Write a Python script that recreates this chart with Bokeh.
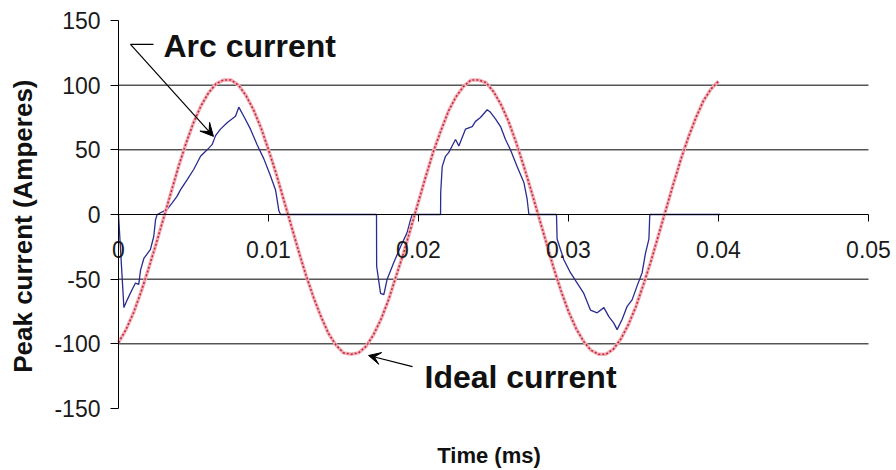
import math
from bokeh.plotting import figure
from bokeh.models import Range1d, FixedTicker, Label, Arrow, VeeHead
from bokeh.embed import file_html
from bokeh.resources import INLINE

# ---- data ----
ideal_t = [0.0000, 0.0005, 0.0010, 0.0015, 0.0020, 0.0025, 0.0030, 0.0035, 0.0040, 0.0045,
           0.0050, 0.0055, 0.0060, 0.0065, 0.0070, 0.0075, 0.0080, 0.0085, 0.0090, 0.0095,
           0.0100, 0.0105, 0.0110, 0.0115, 0.0120, 0.0125, 0.0130, 0.0135, 0.0140, 0.0145,
           0.0150, 0.0155, 0.0160, 0.0165, 0.0170, 0.0175, 0.0180, 0.0185, 0.0190, 0.0195,
           0.0200, 0.0205, 0.0210, 0.0215, 0.0220, 0.0225, 0.0230, 0.0235, 0.0240, 0.0245,
           0.0250, 0.0255, 0.0260, 0.0265, 0.0270, 0.0275, 0.0280, 0.0285, 0.0290, 0.0295,
           0.0300, 0.0305, 0.0310, 0.0315, 0.0320, 0.0325, 0.0330, 0.0335, 0.0340, 0.0345,
           0.0350, 0.0355, 0.0360, 0.0365, 0.0370, 0.0375, 0.0380, 0.0385, 0.0390, 0.0395,
           0.0400]
ideal_i = [-99, -89, -76, -60, -42, -23, -3, 17, 37, 55,
           71, 84, 94, 101, 104, 104, 100, 92, 81, 67,
           50, 32, 12, -8, -28, -47, -64, -79, -92, -101,
           -107, -108, -107, -102, -93, -81, -66, -48, -30, -10,
           10, 30, 49, 65, 80, 91, 99, 104, 104, 102,
           95, 85, 72, 56, 38, 19, -1, -21, -41, -59,
           -75, -88, -98, -105, -108, -108, -104, -96, -85, -71,
           -54, -36, -16, 4, 24, 43, 60, 75, 88, 97,
           103]

arc_t = [0.0, 0.00036, 0.00058, 0.00091, 0.00113, 0.00135, 0.00147, 0.00169, 0.00213, 0.00235,
         0.00247, 0.00258, 0.00324, 0.00358, 0.0039, 0.00413, 0.00458, 0.00502, 0.00547, 0.00591,
         0.00624, 0.00647, 0.0068, 0.00724, 0.00758, 0.0078, 0.00802, 0.00835, 0.0088, 0.00924,
         0.00969, 0.01013, 0.01047, 0.01069, 0.0108,
         0.0172, 0.01721, 0.01747, 0.01769, 0.01791, 0.01836, 0.0188, 0.01924, 0.01947, 0.01958,
         0.02147, 0.02148, 0.02158, 0.0218, 0.02202, 0.02224, 0.02247, 0.02269, 0.02313, 0.02358,
         0.0238, 0.02413, 0.02458, 0.0248, 0.02513, 0.02547, 0.0258, 0.02613, 0.02658, 0.02702,
         0.02724, 0.02736,
         0.0292, 0.02924, 0.02969, 0.03013, 0.03058, 0.03102, 0.03147, 0.03191, 0.03236, 0.03269,
         0.03302, 0.03324, 0.03358, 0.03391, 0.03424, 0.03458, 0.03491, 0.03513, 0.03536, 0.03542,
         0.0401]
arc_i = [0, -72, -66, -58, -53, -54, -43, -34, -27, -17,
         -4, 0, 4, 9, 14, 19, 27, 35, 45, 50,
         54, 61, 66, 71, 74, 76, 83, 76, 66, 54,
         43, 30, 19, 3, 0,
         0, -40, -61, -62, -50, -37, -25, -14, -4, 0,
         0, 17, 37, 45, 48, 53, 58, 53, 66, 68,
         72, 75, 81, 79, 74, 68, 58, 50, 37, 25,
         12, 0,
         0, -19, -35, -45, -53, -61, -74, -76, -72, -79,
         -84, -89, -81, -71, -66, -55, -45, -30, -19, 0,
         0]

x_tick_vals = [0.0, 0.01, 0.02, 0.03, 0.04, 0.05]
x_tick_labels = ["0", "0.01", "0.02", "0.03", "0.04", "0.05"]
y_tick_vals = [-150, -100, -50, 0, 50, 100, 150]
y_tick_labels = ["-150", "-100", "-50", "0", "50", "100", "150"]
grid_vals = [-100, -50, 50, 100]

FONT = "Liberation Sans"

# plot geometry (pixels inside the figure): t=0 at 118, t=0.05 at 868; y=150 at 20, y=-150 at 408
W, H = 894, 468
X0_PX, X1_PX = 118.0, 868.0
YT_PX, YB_PX = 20.0, 408.0
xs = (X1_PX - X0_PX) / 0.05
ys = (YB_PX - YT_PX) / 300.0
x_range = Range1d(-X0_PX / xs, (W - X0_PX) / xs)
y_range = Range1d(-150 - (H - YB_PX) / ys, 150 + YT_PX / ys)

p = figure(width=W, height=H, output_backend="svg", toolbar_location=None,
           x_range=x_range, y_range=y_range,
           min_border_left=0, min_border_right=0, min_border_top=0, min_border_bottom=0)
p.outline_line_color = None
p.background_fill_color = "white"
p.border_fill_color = "white"
p.xgrid.visible = False
p.ygrid.visible = False

# horizontal grid lines spanning the axis extent only
p.segment(x0=[0.0] * len(grid_vals), y0=grid_vals, x1=[0.05] * len(grid_vals), y1=grid_vals,
          line_color="black", line_width=1)

# x axis crossing at zero
xa = p.xaxis[0]
xa.fixed_location = 0
xa.bounds = (0.0, 0.05)
xa.ticker = FixedTicker(ticks=x_tick_vals)
xa.major_label_overrides = dict(zip(x_tick_vals, x_tick_labels))
xa.major_tick_in = 0
xa.major_tick_out = 7
xa.minor_tick_out = 0
xa.minor_tick_in = 0
xa.major_label_standoff = 19
xa.major_label_text_font = FONT
xa.major_label_text_font_size = "23px"
xa.major_label_text_color = "#1a1a1a"
xa.axis_line_color = "black"
xa.major_tick_line_color = "black"

# y axis at t=0
ya = p.yaxis[0]
ya.fixed_location = 0
ya.bounds = (-150, 150)
ya.ticker = FixedTicker(ticks=y_tick_vals)
ya.major_label_overrides = dict(zip(y_tick_vals, y_tick_labels))
ya.major_tick_in = 0
ya.major_tick_out = 8
ya.minor_tick_out = 0
ya.minor_tick_in = 0
ya.major_label_standoff = 10
ya.major_label_text_font = FONT
ya.major_label_text_font_size = "23px"
ya.major_label_text_color = "#1a1a1a"
ya.axis_line_color = "black"
ya.major_tick_line_color = "black"

# axis titles
p.add_layout(Label(x=-0.0064, y=-9, text="Peak current (Amperes)", angle=math.pi / 2,
                   text_font=FONT, text_font_style="bold", text_font_size="26px",
                   text_align="center", text_baseline="middle", text_color="#111111"))
p.add_layout(Label(x=0.0247, y=-186, text="Time (ms)", text_font=FONT, text_font_style="bold",
                   text_font_size="22px", text_baseline="middle", text_align="center",
                   text_color="#111111"))

# series
p.line(arc_t, arc_i, line_color="#2b2b8f", line_width=1.3)
p.line(ideal_t, ideal_i, line_color="#f0b0b8", line_width=3.5)
p.line(ideal_t, ideal_i, line_color="#c8283c", line_width=1.6, line_dash="2 2")

# annotations
p.add_layout(Label(x=0.0030, y=130, text="Arc current", text_font=FONT, text_font_style="bold",
                   text_font_size="32px", text_baseline="middle", text_align="left", text_color="#111111"))
p.segment(x0=[0.0008], y0=[131.6], x1=[0.00233], y1=[131.6], line_color="black", line_width=1.2)
p.add_layout(Arrow(x_start=0.0008, y_start=131.6, x_end=0.00633, y_end=60.4,
                   line_color="black", line_width=1.2,
                   end=VeeHead(size=13, fill_color="black", line_color="black")))

p.add_layout(Label(x=0.0204, y=-125.4, text="Ideal current", text_font=FONT, text_font_style="bold",
                   text_font_size="32px", text_baseline="middle", text_align="left", text_color="#111111"))
p.add_layout(Arrow(x_start=0.0196, y_start=-117.6, x_end=0.01667, y_end=-109,
                   line_color="black", line_width=1.2,
                   end=VeeHead(size=12, fill_color="black", line_color="black")))

open("out.html", "w").write(file_html(p, INLINE))
